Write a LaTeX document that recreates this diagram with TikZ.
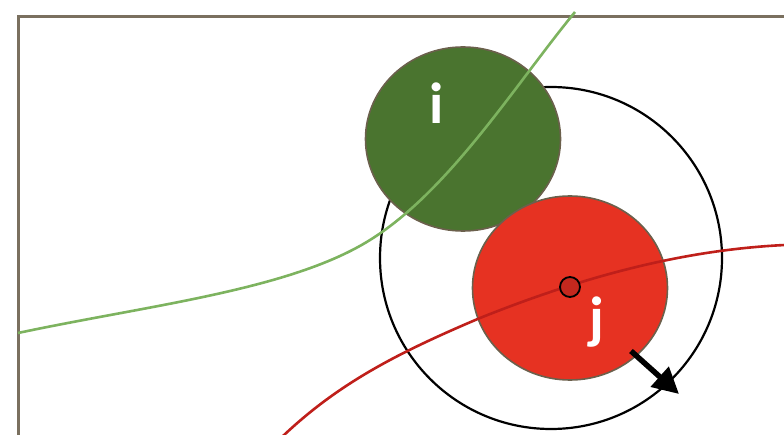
\documentclass[tikz,border=0pt]{standalone}
\usepackage{fontspec}
\setmainfont{Carlito}
\usetikzlibrary{arrows.meta,shapes.geometric}
\definecolor{framec}{HTML}{7A705F}
\definecolor{gfill}{HTML}{4A742F}
\definecolor{gline}{HTML}{7DB35F}
\definecolor{rfill}{HTML}{E63222}
\definecolor{rline}{HTML}{BF1F1A}
\definecolor{rdot}{HTML}{C4281E}
\definecolor{edgec}{HTML}{6B604C}
\tikzset{
  blob/.style={ellipse, draw=edgec, line width=1.6pt, minimum width=195pt, minimum height=184pt, inner sep=0pt},
  lbl/.style={text=white, font=\bfseries\fontsize{58}{64}\selectfont},
  curve/.style={line width=2.6pt},
}
\begin{document}
\begin{tikzpicture}[x=1pt,y=-1pt]
\useasboundingbox (0,0) rectangle (784,435);
\draw[framec, line width=3pt] (18,436) -- (18,17) -- (785,17);
\node[circle, draw=black, line width=2.2pt, minimum size=342pt, inner sep=0pt] (big) at (551,258) {};
\node[blob, fill=gfill] (i) at (463,139) {};
\node[blob, fill=rfill] (j) at (570,288) {};
\coordinate (gs) at (18,333);
\coordinate (gm) at (370,240);
\coordinate (ge) at (575,12);
\draw[gline, curve] (gs) .. controls (150,305) and (290,290) .. (gm) .. controls (450,190) and (515,85) .. (ge);
\coordinate (rs) at (283,436);
\coordinate (rm) at (480,318);
\coordinate (re) at (785,245);
\draw[rline, curve] (rs) .. controls (340,382) and (400,352) .. (rm) .. controls (580,278) and (680,250) .. (re);
\node[circle, draw=black, fill=rdot, line width=1.8pt, minimum size=20pt, inner sep=0pt] (c) at (570,287) {};
\node[lbl] (li) at (437,103) {i};
\node[lbl] (lj) at (597,322) {j};
\coordinate (a1) at (631,351);
\coordinate (a2) at (679,394);
\draw[line width=5.5pt, -{Triangle[length=26pt,width=26pt]}] (a1) -- (a2);
\end{tikzpicture}
\end{document}
